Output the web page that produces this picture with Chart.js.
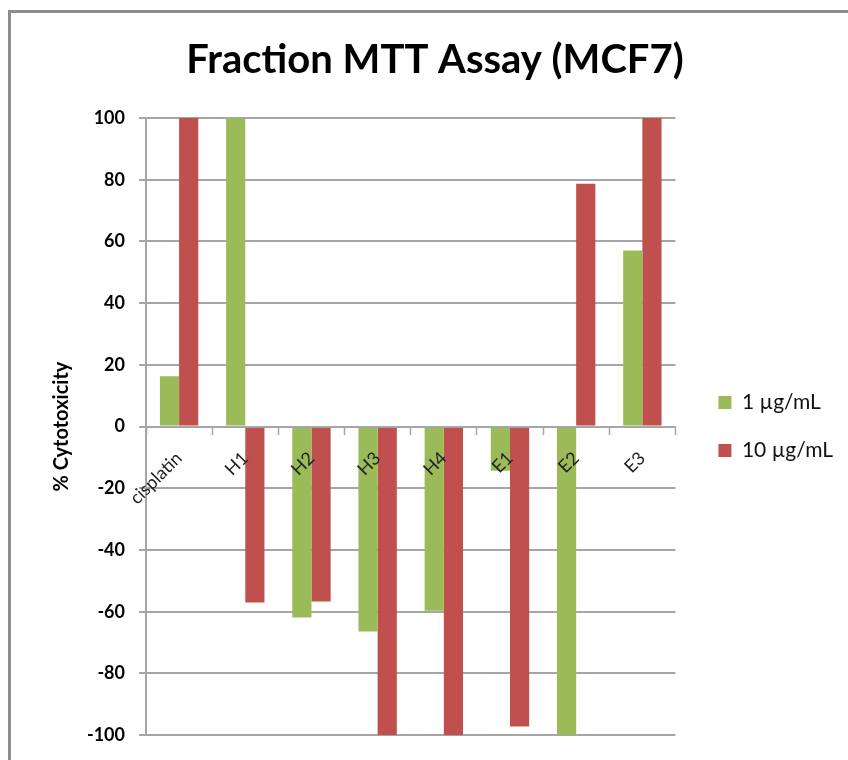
<!DOCTYPE html>
<html>
<head>
<meta charset="utf-8">
<script src="https://cdn.jsdelivr.net/npm/chart.js@4"></script>
<style>
  html, body { margin: 0; padding: 0; background: #fff; }
  #wrap { position: relative; width: 848px; height: 760px; overflow: hidden; }
  #frame {
    position: absolute; left: 8px; top: 10px; width: 900px; height: 900px;
    border-top: 3px solid #8c8c8c; border-left: 3px solid #8c8c8c;
  }
  canvas { position: absolute; left: 0; top: 0; }
</style>
</head>
<body>
<div id="wrap">
  <div id="frame"></div>
  <canvas id="chart" width="848" height="760"></canvas>
</div>
<script>
// chart data
const categories = ["cisplatin", "H1", "H2", "H3", "H4", "E1", "E2", "E3"]
const lowDose = [16.3, 100, -61.9, -66.4, -59.7, -14.3, -100, 57.1]
const highDose = [100, -57, -56.7, -100, -100, -97.2, 78.7, 100]
const seriesNames = ["1 µg/mL", "10 µg/mL"]
const yTicks = [100, 80, 60, 40, 20, 0, -20, -40, -60, -80, -100]

const green = "#9BBB59"
const red = "#C0504D"
const gridColor = "#a6a6a6"

const ctx = document.getElementById("chart").getContext("2d")

new Chart(ctx, {
  type: "bar",
  data: {
    labels: categories,
    datasets: [
      { label: seriesNames[0], data: lowDose, backgroundColor: green },
      { label: seriesNames[1], data: highDose, backgroundColor: red },
    ],
  },
  options: {
    responsive: false,
    animation: false,
    devicePixelRatio: 1,
    categoryPercentage: 0.58,
    barPercentage: 1,
    layout: {
      padding: { left: 27, right: 5, top: 0, bottom: 24 },
    },
    plugins: {
      title: {
        display: true,
        text: "Fraction MTT Assay (MCF7)",
        color: "#000",
        font: { family: "Lato", size: 40, weight: "bold" },
        padding: { top: 36, bottom: 34 },
      },
      legend: {
        position: "right",
        fullSize: false,
        maxWidth: 220,
        labels: {
          color: "#111",
          font: { family: "Lato", size: 21 },
          boxWidth: 13,
          boxHeight: 13,
          padding: 27,
        },
      },
      tooltip: { enabled: false },
    },
    scales: {
      x: {
        position: { y: 0 },
        grid: {
          offset: true,
          drawOnChartArea: false,
          tickLength: 7,
          tickColor: gridColor,
          tickWidth: 1.5,
        },
        border: { color: gridColor, width: 2, z: 1 },
        ticks: {
          z: 1,
          color: "#222",
          font: { family: "Lato", size: 18 },
          maxRotation: 45,
          minRotation: 45,
          padding: 14,
        },
      },
      y: {
        min: -100,
        max: 100,
        afterBuildTicks: (scale) => {
          scale.ticks = yTicks.map((v) => ({ value: v }))
        },
        afterFit: (scale) => {
          scale.width = 119
        },
        grid: {
          color: gridColor,
          lineWidth: 2,
          tickLength: 7,
        },
        border: { color: gridColor, width: 2 },
        ticks: {
          color: "#000",
          font: { family: "Lato", size: 18, weight: "bold" },
          padding: 14,
        },
        title: {
          display: true,
          text: "% Cytotoxicity",
          color: "#000",
          font: { family: "Lato", size: 20, weight: "bold" },
          padding: { top: 23, bottom: 0 },
        },
      },
      // empty spacer between plot and legend
      gap: {
        type: "linear",
        position: "right",
        grid: { display: false },
        border: { display: false },
        ticks: { display: false },
        afterFit: (scale) => {
          scale.width = 16
        },
      },
    },
  },
})
</script>
</body>
</html>
